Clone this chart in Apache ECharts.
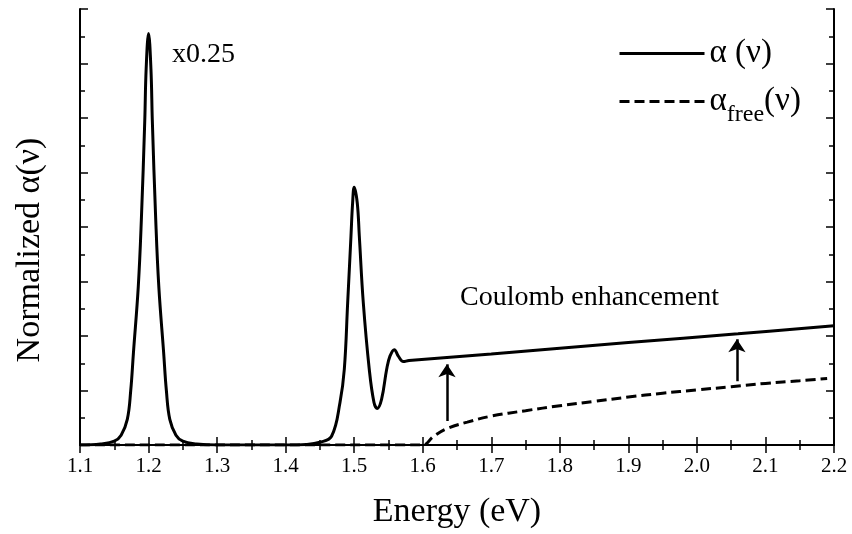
<!DOCTYPE html>
<html>
<head>
<meta charset="utf-8">
<script src="https://cdn.jsdelivr.net/npm/echarts@6/dist/echarts.min.js"></script>
<style>
  html, body { margin: 0; padding: 0; background: #fff; }
  #chart { width: 852px; height: 534px; }
</style>
</head>
<body>
<div id="chart"></div>
<script>
// Absorption spectrum: full (with Coulomb interaction) vs. free-carrier
const energyFull = [1.10, 1.13, 1.15, 1.16, 1.169, 1.174, 1.178, 1.185, 1.1895, 1.1945, 1.1965, 1.2,
  1.2035, 1.2055, 1.2105, 1.215, 1.222, 1.226, 1.231, 1.24, 1.25, 1.27, 1.30, 1.40,
  1.43, 1.45, 1.467, 1.4793, 1.4856, 1.4905, 1.4953, 1.4977, 1.50, 1.5045, 1.5075, 1.5133,
  1.522, 1.5289, 1.5337, 1.540, 1.5474, 1.5522, 1.5586, 1.5644, 1.5717, 1.58, 1.70, 1.90, 2.06, 2.20];
const alphaFull = [0, 0.02, 0.07, 0.18, 0.47, 1.0, 1.7, 2.9, 4.13, 5.96, 6.9, 7.55,
  6.9, 5.96, 4.13, 2.9, 1.7, 1.0, 0.47, 0.18, 0.07, 0.02, 0, 0,
  0.01, 0.05, 0.16, 0.78, 1.39, 2.61, 3.83, 4.44, 4.73, 4.44, 3.83, 2.61,
  1.39, 0.78, 0.67, 0.84, 1.39, 1.63, 1.75, 1.63, 1.53, 1.55, 1.67, 1.88, 2.04, 2.19];

const energyFree = [1.10, 1.60, 1.615, 1.635, 1.665, 1.70, 1.75, 1.80, 1.85, 1.90, 1.95, 2.00, 2.05, 2.10, 2.15, 2.19];
const alphaFree = [0, 0, 0.15, 0.30, 0.42, 0.53, 0.63, 0.72, 0.80, 0.88, 0.95, 1.01, 1.07, 1.13, 1.18, 1.22];

// Enhancement arrows: energy, start value, tip value
const arrowEnergy = [1.6354, 2.0584];
const arrowFrom = [0.44, 1.17];
const arrowTo = [1.48, 1.94];

const xTicks = { min: 1.1, max: 2.2, step: 0.1 };
const yTicks = { min: 0, max: 8, step: 1 };

const seriesNames = ['α (ν)', 'α_free(ν)'];

const serif = 'Liberation Serif';

function pairs(xs, ys) { return xs.map((x, i) => [x, ys[i]]); }

const chart = echarts.init(document.getElementById('chart'), null, { renderer: 'canvas' });

const axisCommon = {
  axisLine: { show: true, lineStyle: { color: '#000', width: 2 } },
  axisTick: { show: true, inside: true, length: 8, lineStyle: { color: '#000', width: 1.5 } },
  minorTick: { show: true, splitNumber: 2, length: 5, lineStyle: { color: '#000', width: 1.5 } },
  splitLine: { show: false },
  minorSplitLine: { show: false }
};

const xBase = Object.assign({}, axisCommon, {
  type: 'value', min: xTicks.min, max: xTicks.max, interval: xTicks.step
});
const yBase = Object.assign({}, axisCommon, {
  type: 'value', min: yTicks.min, max: yTicks.max, interval: yTicks.step
});

const arrowLines = arrowEnergy.map((e, i) => [
  { coord: [e, arrowFrom[i]] },
  { coord: [e, arrowTo[i]] }
]);

chart.setOption({
  animation: false,
  backgroundColor: '#fff',
  grid: { left: 80, right: 18, top: 9, bottom: 88 },
  xAxis: [
    Object.assign({}, xBase, {
      position: 'bottom',
      axisLabel: {
        show: true, margin: 11, color: '#000', fontFamily: serif, fontSize: 21,
        formatter: v => v.toFixed(1)
      },
      name: 'Energy (eV)', nameLocation: 'middle', nameGap: 50,
      nameTextStyle: { color: '#000', fontFamily: serif, fontSize: 34 }
    }),
    Object.assign({}, xBase, { position: 'top', axisLabel: { show: false } })
  ],
  yAxis: [
    Object.assign({}, yBase, { position: 'left', axisLabel: { show: false } }),
    Object.assign({}, yBase, { position: 'right', axisLabel: { show: false } })
  ],
  legend: {
    orient: 'vertical',
    left: 618, top: 37, padding: 0,
    itemWidth: 85, itemHeight: 14, itemGap: 15,
    itemStyle: { opacity: 0 },
    lineStyle: { width: 3, color: '#000' },
    data: seriesNames,
    formatter: name => {
      if (name === seriesNames[1]) return '{a|α}{s|free}{a|(ν)}';
      return '{a|α (ν)}';
    },
    textStyle: {
      color: '#000', fontFamily: serif, fontSize: 33,
      rich: {
        a: { fontFamily: serif, fontSize: 33, color: '#000', lineHeight: 38 },
        s: { fontFamily: serif, fontSize: 24, color: '#000', lineHeight: 38, verticalAlign: 'bottom', padding: [0, 0, -6, 0] }
      }
    }
  },
  series: [
    {
      name: seriesNames[0], type: 'line',
      data: pairs(energyFull, alphaFull),
      symbol: 'none', smooth: 0.4,
      lineStyle: { color: '#000', width: 3, type: 'solid' },
      itemStyle: { color: '#000' },
      z: 3,
      markLine: {
        silent: true, animation: false,
        symbol: ['none', 'arrow'], symbolSize: 13,
        label: { show: false },
        lineStyle: { color: '#000', width: 2.5, type: 'solid' },
        emphasis: { disabled: true },
        data: arrowLines
      }
    },
    {
      name: seriesNames[1], type: 'line',
      data: pairs(energyFree, alphaFree),
      symbol: 'none', smooth: 0.4,
      lineStyle: { color: '#000', width: 3, type: [10, 5] },
      itemStyle: { color: '#000' },
      z: 2
    }
  ],
  graphic: [
    {
      type: 'text', left: 172, top: 41,
      style: { text: 'x0.25', fill: '#000', font: '28px "Liberation Serif"' }
    },
    {
      type: 'text', left: 460, top: 284,
      style: { text: 'Coulomb enhancement', fill: '#000', font: '28px "Liberation Serif"' }
    },
    {
      type: 'text', x: 30, y: 250, rotation: Math.PI / 2,
      style: {
        text: 'Normalized α(ν)', fill: '#000', font: '34px "Liberation Serif"',
        textAlign: 'center', textVerticalAlign: 'middle'
      }
    }
  ]
});
</script>
</body>
</html>
